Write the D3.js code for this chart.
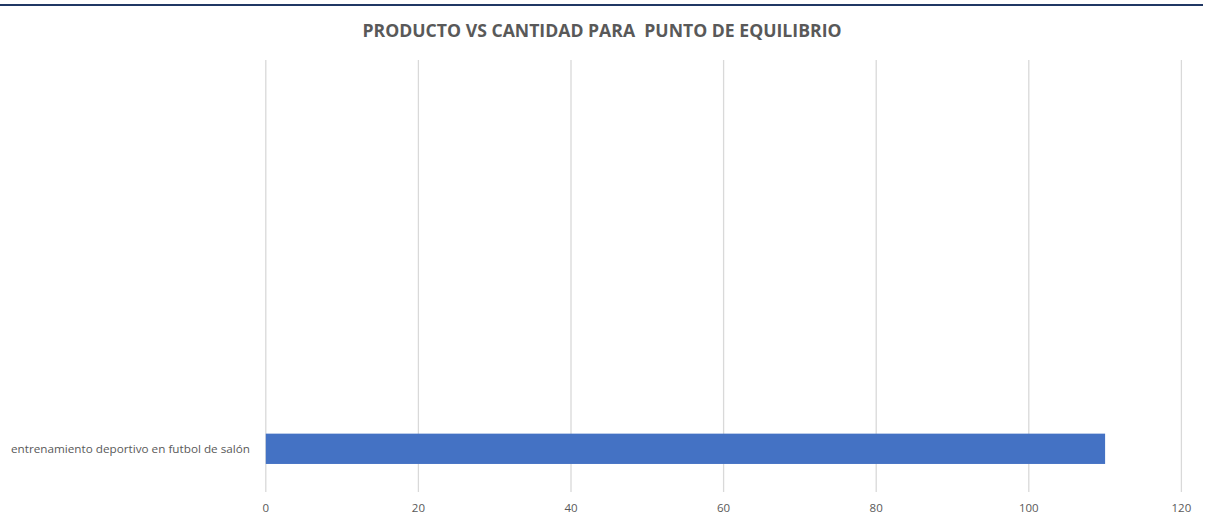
<!DOCTYPE html>
<html>
<head>
<meta charset="utf-8">
<script src="https://cdn.jsdelivr.net/npm/d3@7"></script>
<style>
  body { margin: 0; background: #fff; }
  svg { display: block; }
</style>
</head>
<body>
<svg id="chart" width="1205" height="516"></svg>
<script>
// chart data
const title = 'PRODUCTO VS CANTIDAD PARA  PUNTO DE EQUILIBRIO';
const categories = ['entrenamiento deportivo en futbol de salón', '', '', '', ''];
const values = [110, null, null, null, null];
const xTicks = [0, 20, 40, 60, 80, 100, 120];

const svg = d3.select('svg#chart');
const textColor = '#595959';

// top rule
svg.append('line')
  .attr('x1', 0).attr('x2', 1203)
  .attr('y1', 5).attr('y2', 5)
  .style('stroke', '#203864')
  .style('stroke-width', 2);

svg.append('text')
  .attr('x', 602).attr('y', 37)
  .attr('text-anchor', 'middle')
  .attr('textLength', 479)
  .attr('lengthAdjust', 'spacingAndGlyphs')
  .style('white-space', 'pre')
  .style('font-family', 'Open Sans, sans-serif')
  .style('font-weight', 'bold')
  .style('font-size', '17px')
  .style('fill', textColor)
  .text(title);

const x = d3.scaleLinear()
  .domain([0, 120])
  .range([265.8, 1181.4]);

// Excel puts the first category at the bottom
const y = d3.scaleBand()
  .domain(d3.range(categories.length))
  .range([492, 60]);

const gapWidth = 1.85;
const barH = y.bandwidth() / (1 + gapWidth);

const g = svg.append('g');

// gridlines
g.selectAll('line.grid').data(xTicks)
  .enter().append('line')
    .attr('class', 'grid')
    .attr('x1', d => x(d)).attr('x2', d => x(d))
    .attr('y1', 60).attr('y2', 492)
    .style('stroke', '#d9d9d9')
    .style('stroke-width', 1.3);

// x tick labels
g.selectAll('text.tick').data(xTicks)
  .enter().append('text')
    .attr('class', 'tick')
    .attr('x', d => x(d)).attr('y', 512)
    .attr('text-anchor', 'middle')
    .style('font-family', 'Open Sans, sans-serif')
    .style('font-size', '11.5px')
    .style('fill', textColor)
    .text(d => d);

// bars
g.selectAll('rect.bar').data(values.map((v, i) => ({ v, i })).filter(d => d.v != null))
  .enter().append('rect')
    .attr('class', 'bar')
    .attr('x', x(0))
    .attr('y', d => y(d.i) + (y.bandwidth() - barH) / 2)
    .attr('width', d => x(d.v) - x(0))
    .attr('height', barH)
    .style('fill', '#4472c4');

// category labels
g.selectAll('text.cat').data(categories.map((c, i) => ({ c, i })).filter(d => d.c))
  .enter().append('text')
    .attr('class', 'cat')
    .attr('x', 250)
    .attr('y', d => y(d.i) + y.bandwidth() / 2 + 4)
    .attr('text-anchor', 'end')
    .attr('textLength', 239)
    .attr('lengthAdjust', 'spacingAndGlyphs')
    .style('font-family', 'Open Sans, sans-serif')
    .style('font-size', '11px')
    .style('fill', textColor)
    .text(d => d.c);
</script>
</body>
</html>
